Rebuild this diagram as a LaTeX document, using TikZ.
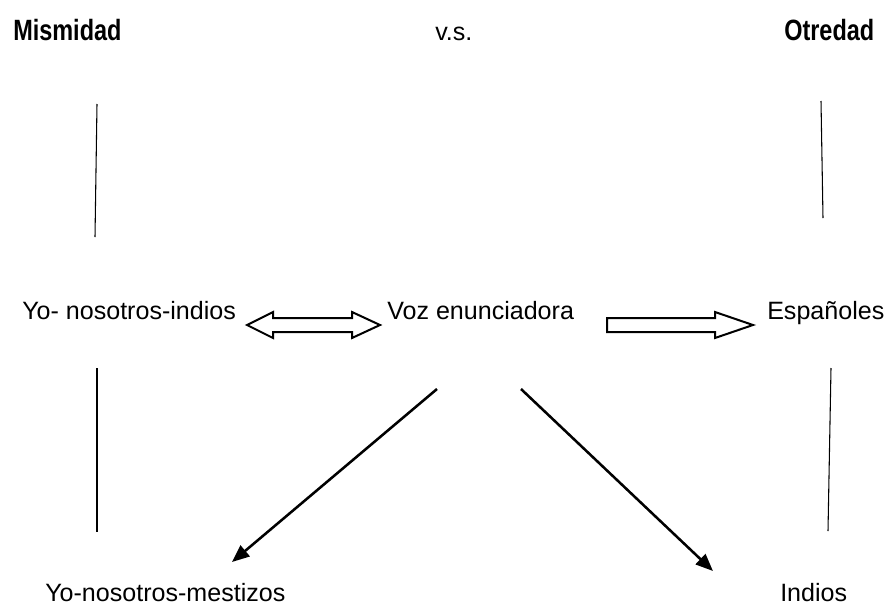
\documentclass[tikz,border=0pt]{standalone}
\usepackage{fontspec}
\setmainfont{Liberation Sans}
\newfontfamily\narrowfont[FakeStretch=0.8]{Liberation Sans}
\usetikzlibrary{arrows.meta}

\begin{document}
\begin{tikzpicture}[x=0.75pt,y=-0.75pt]
   \useasboundingbox (0,0) rectangle (893,611);
   \begin{scope}[every node/.style={inner sep=0pt,anchor=base west,font=\fontsize{18.8}{21}\selectfont}]
    \node[font=\narrowfont\bfseries\fontsize{22}{24}\selectfont] (mis) at (13,40) {Mismidad};
    \node (vs) at (435,40) {v.s.};
    \node[font=\narrowfont\bfseries\fontsize{22}{24}\selectfont] (otr) at (784,40) {Otredad};
    \node (yoi) at (22,319) {Yo- nosotros-indios};
    \node (voz) at (387,319) {Voz enunciadora};
    \node (esp) at (767,319) {Españoles};
    \node (yom) at (45,601) {Yo-nosotros-mestizos};
    \node (ind) at (780,601) {Indios};
   \end{scope}
   % ends of the free lines
   \coordinate (l1) at (97,104);
   \coordinate (l2) at (95,237);
   \coordinate (l3) at (97,368);
   \coordinate (l4) at (97,532);
   \coordinate (r1) at (821,101);
   \coordinate (r2) at (823,218);
   \coordinate (r3) at (831,368);
   \coordinate (r4) at (828,531);
   \coordinate (vl) at (437,389);
   \coordinate (vr) at (521,389);
   \coordinate (ml) at (232,562);
   \coordinate (mr) at (713,571);
   \begin{scope}[line width=0.8pt]
    \draw (l1) -- (l2);
    \draw (l3) -- (l4);
    \draw (r1) -- (r2);
    \draw (r3) -- (r4);
   \end{scope}
   \begin{scope}[line width=1.9pt,-{Triangle[length=13pt,width=10.5pt]}]
    \draw (vl) -- (ml);
    \draw (vr) -- (mr);
   \end{scope}
   % block arrows
   \draw[line width=1.5pt,line join=miter] (247,325) -- (273,312) -- (273,318) -- (352,318)
     -- (352,312) -- (380,325) -- (352,338) -- (352,332) -- (273,332) -- (273,338) -- cycle;
   \draw[line width=1.5pt,line join=miter] (607,318) -- (715,318) -- (715,312) -- (753,325)
     -- (715,338) -- (715,332) -- (607,332) -- cycle;
\end{tikzpicture}
\end{document}
